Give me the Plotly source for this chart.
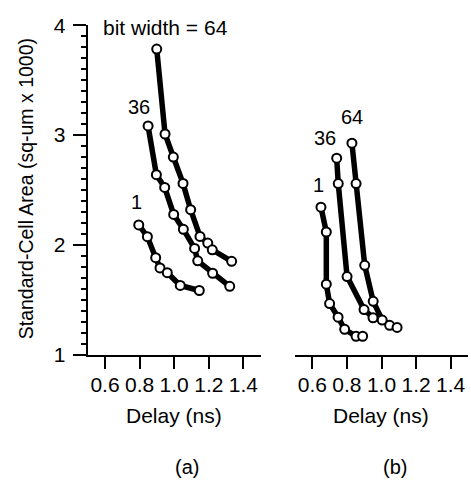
import plotly.graph_objects as go

# Panel (a)
a64_x = [0.899, 0.947, 0.995, 1.051, 1.095, 1.149, 1.194, 1.220, 1.332]
a64_y = [3.784, 3.010, 2.800, 2.560, 2.320, 2.077, 2.016, 1.955, 1.850]
a36_x = [0.849, 0.897, 0.945, 0.997, 1.053, 1.118, 1.136, 1.222, 1.321]
a36_y = [3.083, 2.639, 2.523, 2.277, 2.141, 1.967, 1.854, 1.741, 1.622]
a1_x = [0.795, 0.845, 0.893, 0.918, 0.960, 1.035, 1.145]
a1_y = [2.181, 2.074, 1.883, 1.790, 1.746, 1.630, 1.584]

# Panel (b)
b64_x = [0.829, 0.853, 0.903, 0.952, 1.004, 1.047, 1.090]
b64_y = [2.926, 2.558, 1.813, 1.485, 1.315, 1.267, 1.247]
b36_x = [0.741, 0.750, 0.801, 0.899, 0.951]
b36_y = [2.790, 2.558, 1.711, 1.410, 1.335]
b1_x = [0.650, 0.681, 0.681, 0.700, 0.749, 0.787, 0.853, 0.891]
b1_y = [2.343, 2.117, 1.642, 1.465, 1.341, 1.230, 1.167, 1.167]

x_ticks = [0.6, 0.8, 1.0, 1.2, 1.4]
x_ticktext = ["0.6", "0.8", "1.0", "1.2", "1.4"]
y_ticks = [1, 2, 3, 4]

FONT = "Liberation Sans, Arial, Helvetica, sans-serif"

fig = go.Figure()

def add_series(x, y, xa, ya):
    fig.add_trace(go.Scatter(
        x=x, y=y, xaxis=xa, yaxis=ya, mode="lines+markers",
        line=dict(color="black", width=5.5),
        marker=dict(symbol="circle", size=9, color="white",
                    line=dict(color="black", width=2)),
        showlegend=False, hoverinfo="skip", cliponaxis=False))

for x, y in [(a64_x, a64_y), (a36_x, a36_y), (a1_x, a1_y)]:
    add_series(x, y, "x", "y")
for x, y in [(b64_x, b64_y), (b36_x, b36_y), (b1_x, b1_y)]:
    add_series(x, y, "x2", "y2")

W, H = 471, 489
ytop = (H - 14) / H
ybot = (H - 359.5) / H

xcommon = dict(range=[0.5, 1.5], tickvals=x_ticks, ticktext=x_ticktext,
               ticks="outside", ticklen=12, tickwidth=2, tickcolor="black",
               showline=True, linecolor="black", linewidth=2,
               showgrid=False, zeroline=False, ticklabelstandoff=-2,
               tickfont=dict(family=FONT, size=21, color="black"))

fig.update_layout(
    width=W, height=H,
    margin=dict(l=0, r=0, t=0, b=0),
    paper_bgcolor="white", plot_bgcolor="white",
    font=dict(family=FONT, color="black"),
    xaxis=dict(domain=[87.7 / W, 260.7 / W], anchor="y", **xcommon),
    xaxis2=dict(domain=[295 / W, 468 / W], anchor="y2", **xcommon),
    yaxis=dict(domain=[ybot, ytop], range=[1, 4], anchor="x",
               tickvals=y_ticks, ticks="outside", ticklen=13, tickwidth=2,
               tickcolor="black", showline=True, linecolor="black", linewidth=2,
               showgrid=False, zeroline=False, ticklabelstandoff=3,
               minor=dict(dtick=0.1, ticks="outside", ticklen=5, tickwidth=2,
                          tickcolor="black", showgrid=False),
               tickfont=dict(family=FONT, size=21, color="black")),
    yaxis2=dict(domain=[ybot, ytop], range=[1, 4], anchor="x2", visible=False),
)

def ann(text, x, y, xref, yref, size=20, angle=0):
    fig.add_annotation(text=text, x=x, y=y, xref=xref, yref=yref,
                       showarrow=False, xanchor="center", yanchor="middle",
                       textangle=angle,
                       font=dict(family=FONT, size=size, color="black"))

ann("bit width = 64", 0.947, 3.978, "x", "y", size=21)
ann("36", 0.797, 3.252, "x", "y")
ann("1", 0.783, 2.39, "x", "y")
ann("64", 0.829, 3.161, "x2", "y2")
ann("36", 0.673, 2.974, "x2", "y2")
ann("1", 0.636, 2.548, "x2", "y2")

ann("Delay (ns)", 173.8 / W, (H - 423) / H, "paper", "paper", size=21)
ann("Delay (ns)", 381.3 / W, (H - 423) / H, "paper", "paper", size=21)
ann("(a)", 187 / W, (H - 477) / H, "paper", "paper")
ann("(b)", 394.7 / W, (H - 477) / H, "paper", "paper")
ann("Standard-Cell Area (sq-um x 1000)", 26 / W, (H - 186) / H, "paper", "paper",
    size=19.5, angle=-90)

fig.write_html("out.html", config={"displayModeBar": False},
               post_script="document.body.style.margin='0';document.body.style.overflow='hidden';")
